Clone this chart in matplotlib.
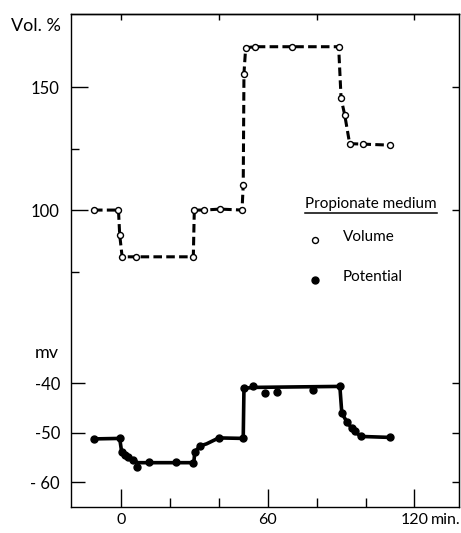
import numpy as np
import matplotlib.pyplot as plt
from matplotlib.transforms import blended_transform_factory

plt.rcParams['font.family'] = ['Lato', 'DejaVu Sans']

# Volumen (% del inicial) frente al tiempo (min)
t_vol = [-11, -1, -0.5, 0.5, 6, 29.6, 30, 34, 40.5, 49.5, 50, 50.3, 51, 55, 70, 89, 90, 91.5, 93.5, 99, 110]
vol = [100, 100, 90, 81, 81, 81, 100, 100, 100.4, 100, 110, 155.5, 166, 166.4, 166.4, 166.4, 145.4, 138.6, 127, 126.8, 126.4]

# Potencial de membrana (mV), puntos medidos
t_pot = [-11, -0.5, 0.3, 1.5, 3, 5, 6.5, 11.5, 22.5, 29.5, 30.2, 32.5, 40, 50, 50.3,
         54, 59, 64, 78.5, 89.5, 90.3, 92.3, 94.3, 95.7, 98, 110]
mv = [-51.2, -51.1, -53.8, -54.4, -54.8, -55.5, -56.8, -55.8, -55.9, -56.1, -53.8, -52.6, -51, -51.1, -41,
      -40.5, -42, -41.7, -41.3, -40.6, -46, -47.7, -49, -49.7, -50.7, -50.9]

# Curva trazada a mano sobre los puntos de potencial
t_curva = [-11, -0.5, 0.3, 1.5, 3, 5, 7, 29.8, 30.2, 32.5, 35, 40, 50, 50.3, 54, 89.5,
           90.3, 92.3, 94.3, 95.7, 98, 110]
mv_curva = [-51.2, -51.1, -53.8, -54.4, -54.8, -55.5, -56, -56, -53.8, -52.6, -52.2, -51, -51.1, -41, -40.8, -40.6,
            -46, -47.7, -49, -49.7, -50.7, -50.9]

ticks_x = [0, 60, 120]
ticks_x_menores = [20, 40, 80, 100]
ticks_x_arriba = [0, 40, 80, 120]
ticks_vol = [100, 150]
ticks_vol_menores = [75, 125]
ticks_mv = [-60, -50, -40]
etiquetas_mv = ['- 60', '-50', '-40']

fig = plt.figure(figsize=(4.61, 5.33), dpi=100)
ax = fig.add_axes([71 / 461, 26 / 533, 388 / 461, 493 / 533])
ax2 = ax.twinx()

ax.set_xlim(-20.4, 138.2)
ax.set_ylim(-20.7, 179.7)
ax2.set_ylim(-64.95, 34.6)

# Volumen: linea discontinua con circulos abiertos
ax.plot(t_vol, vol, color='black', lw=2.2, linestyle=(0, (2.8, 1.4)), zorder=2)
ax.plot(t_vol, vol, 'o', ms=4.3, mfc='white', mec='black', mew=1.0, zorder=3)

# Potencial: linea continua con puntos llenos
ax2.plot(t_curva, mv_curva, color='black', lw=2.6, solid_joinstyle='round', solid_capstyle='round')
ax2.plot(t_pot, mv, 'o', ms=5, color='black')

for s in ax.spines.values():
    s.set_linewidth(1.0)
for s in ax2.spines.values():
    s.set_visible(False)

# Eje x
ax.set_xticks(ticks_x)
ax.set_xticklabels([str(v) for v in ticks_x])
ax.set_xticks(ticks_x_menores, minor=True)
ax.tick_params(axis='x', which='major', direction='in', length=13, width=1, top=False, labelsize=11.5, pad=4)
ax.tick_params(axis='x', which='minor', direction='in', length=6.5, width=1, top=False)
arriba = ax.secondary_xaxis('top')
arriba.set_xticks(ticks_x_arriba)
arriba.set_xticklabels([])
arriba.tick_params(direction='in', length=4.5, width=1)
arriba.spines['top'].set_linewidth(1.0)

# unidad a continuacion de la ultima etiqueta del eje x (misma altura)
trans = blended_transform_factory(ax.transAxes, ax.transAxes)
ax.text(1.004, -4 * 100 / 72 / 493, 'min.', transform=trans, ha='right', va='top', fontsize=11.5)

# Eje y de volumen
ax.set_yticks(ticks_vol)
ax.set_yticklabels([str(v) for v in ticks_vol])
ax.set_yticks(ticks_vol_menores, minor=True)
ax.yaxis.set_minor_formatter(plt.NullFormatter())
ax.tick_params(axis='y', which='major', direction='in', length=12, width=1, right=False, labelsize=12, pad=8)
ax.tick_params(axis='y', which='minor', direction='in', length=5.5, width=1, right=False)
der_vol = ax.secondary_yaxis('right')
der_vol.set_yticks(ticks_vol)
der_vol.set_yticklabels([])
der_vol.tick_params(direction='in', length=5, width=1)
der_vol.spines['right'].set_linewidth(0.8)

# Eje y de potencial (a la izquierda tambien)
ax2.yaxis.tick_left()
ax2.set_yticks(ticks_mv)
ax2.set_yticklabels(etiquetas_mv)
ax2.tick_params(axis='y', direction='in', length=10, width=1, labelsize=12, pad=8)
der_mv = ax2.secondary_yaxis('right')
der_mv.set_yticks(ticks_mv)
der_mv.set_yticklabels([])
der_mv.tick_params(direction='in', length=5, width=1)
der_mv.spines['right'].set_visible(False)

fig.text(36 / 461, 1 - 26 / 533, 'Vol. %', ha='center', va='center', fontsize=13)
fig.text(47 / 461, 1 - 353 / 533, 'mv', ha='center', va='center', fontsize=13)

# Leyenda
titulo = ax.text(0.603, 0.6065, 'Propionate medium', transform=ax.transAxes,
                 ha='left', va='baseline', fontsize=11)
fig.canvas.draw()
bb = titulo.get_window_extent().transformed(ax.transAxes.inverted())
ax.plot([bb.x0, bb.x1], [0.596, 0.596], transform=ax.transAxes, color='black', lw=1.1, clip_on=False)
ax.plot([0.629], [0.541], 'o', ms=4.3, mfc='white', mec='black', mew=1.0, transform=ax.transAxes)
ax.text(0.701, 0.548, 'Volume', transform=ax.transAxes, ha='left', va='center', fontsize=11)
ax.plot([0.629], [0.460], 'o', ms=5, color='black', transform=ax.transAxes)
ax.text(0.701, 0.4665, 'Potential', transform=ax.transAxes, ha='left', va='center', fontsize=11)

fig.savefig('out.png', dpi=100)
